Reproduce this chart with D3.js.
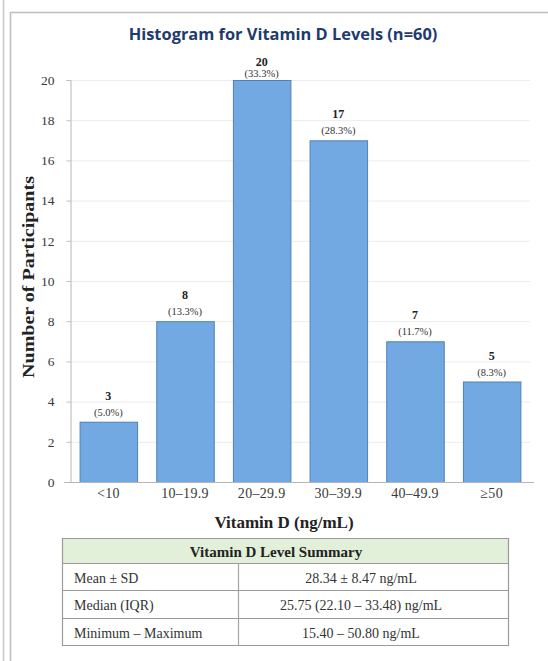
<!DOCTYPE html>
<html>
<head>
<meta charset="utf-8">
<script src="https://cdn.jsdelivr.net/npm/d3@7"></script>
<style>
  html, body { margin: 0; padding: 0; background: #fff; }
  svg { display: block; }
</style>
</head>
<body>
<svg id="chart" width="548" height="661"></svg>
<script>
// Vitamin D level bins and participant counts
const categories = ["<10", "10–19.9", "20–29.9", "30–39.9", "40–49.9", "≥50"];
const counts = [3, 8, 20, 17, 7, 5];
const pctLabels = ["(5.0%)", "(13.3%)", "(33.3%)", "(28.3%)", "(11.7%)", "(8.3%)"];
const yTicks = [0, 2, 4, 6, 8, 10, 12, 14, 16, 18, 20];

// Summary table rows
const summaryTitle = "Vitamin D Level Summary";
const summaryLabels = ["Mean ± SD", "Median (IQR)", "Minimum – Maximum"];
const summaryValues = ["28.34 ± 8.47 ng/mL", "25.75 (22.10 – 33.48) ng/mL", "15.40 – 50.80 ng/mL"];

const serif = "'Liberation Serif', 'Times New Roman', serif";
const svg = d3.select("#chart");

// page frame
svg.append("line").attr("x1", 3.5).attr("x2", 3.5).attr("y1", 0).attr("y2", 661)
  .attr("stroke", "#c8c8c8").attr("stroke-width", 1.5);
svg.append("path").attr("d", "M10.5,661 V12.5 H548")
  .attr("fill", "none").attr("stroke", "#bdbdbd").attr("stroke-width", 1.5);

const plot = { left: 70, right: 530, top: 80, bottom: 482 };

const x = d3.scaleBand().domain(categories)
  .range([plot.left, plot.right]).paddingInner(0.25).paddingOuter(0.125);
const y = d3.scaleLinear().domain([0, 20]).range([plot.bottom, plot.top]);

// title
svg.append("text")
  .attr("x", 283).attr("y", 40)
  .attr("text-anchor", "middle")
  .attr("font-family", "'Open Sans', 'Noto Sans', sans-serif")
  .attr("font-weight", "bold").attr("font-size", 16.4)
  .attr("fill", "#1f3a6e")
  .text("Histogram for Vitamin D Levels (n=60)");

// horizontal gridlines
svg.append("g").selectAll("line").data(yTicks.filter(d => d > 0)).join("line")
  .attr("x1", plot.left).attr("x2", plot.right)
  .attr("y1", d => y(d) + 0.5).attr("y2", d => y(d) + 0.5)
  .attr("stroke", "#ececec").attr("stroke-width", 1);

// y axis
const yAxis = svg.append("g")
  .attr("transform", `translate(${plot.left + 0.5},0)`)
  .call(d3.axisLeft(y).tickValues(yTicks).tickSize(4).tickPadding(12));
yAxis.attr("font-family", serif).attr("font-size", 13.5);
yAxis.select(".domain").attr("stroke", "#b5b5b5");
yAxis.selectAll(".tick line").attr("stroke", "#c0c0c0");
yAxis.selectAll(".tick text")
  .attr("font-family", serif).attr("font-size", 13.5)
  .attr("fill", "#3a3a3a");

// bars
svg.append("g").selectAll("rect").data(counts).join("rect")
  .attr("x", (d, i) => x(categories[i]) + 0.5)
  .attr("y", d => y(d) + 0.5)
  .attr("width", x.bandwidth())
  .attr("height", d => y(0) - y(d))
  .attr("fill", "#73a9e3")
  .attr("stroke", "#4f80b6").attr("stroke-width", 1);

// x axis
const xAxis = svg.append("g")
  .attr("transform", `translate(0,${plot.bottom + 0.5})`)
  .call(d3.axisBottom(x).tickSize(0).tickPadding(6).tickSizeOuter(0));
xAxis.attr("font-family", serif).attr("font-size", 14);
xAxis.select(".domain").attr("stroke", "#b5b5b5").attr("d", `M${plot.left - 6},0H${plot.right + 4}`);
xAxis.selectAll(".tick text")
  .attr("font-family", serif).attr("font-size", 14)
  .attr("letter-spacing", 0.3)
  .attr("fill", "#3a3a3a");

// value labels: count and share of participants
const maxCount = d3.max(counts);
const labels = svg.append("g").selectAll("g").data(counts).join("g")
  .attr("transform", (d, i) => `translate(${x(categories[i]) + x.bandwidth() / 2},${y(d)})`);
labels.append("text")
  .attr("y", d => d === maxCount ? -14.5 : -22).attr("text-anchor", "middle")
  .attr("font-family", serif).attr("font-weight", "bold").attr("font-size", 12)
  .attr("fill", "#222")
  .text(d => d);
labels.append("text")
  .attr("y", d => d === maxCount ? -3 : -6).attr("text-anchor", "middle")
  .attr("font-family", serif).attr("font-size", 10.5)
  .attr("fill", "#333")
  .text((d, i) => pctLabels[i]);

// axis titles
svg.append("text")
  .attr("x", 284).attr("y", 528).attr("text-anchor", "middle")
  .attr("font-family", serif).attr("font-weight", "bold").attr("font-size", 17)
  .attr("fill", "#222")
  .text("Vitamin D (ng/mL)");
svg.append("text")
  .attr("transform", "translate(34,277) rotate(-90) scale(1.25,1)")
  .attr("text-anchor", "middle")
  .attr("font-family", serif).attr("font-weight", "bold").attr("font-size", 16)
  .attr("fill", "#222")
  .text("Number of Participants");

// summary table
const tbl = { left: 62, right: 508, top: 538, header: 25, row: 27.3, divider: 238 };
const tg = svg.append("g");
tg.append("rect")
  .attr("x", tbl.left + 0.5).attr("y", tbl.top + 0.5)
  .attr("width", tbl.right - tbl.left).attr("height", tbl.header)
  .attr("fill", "#e2efd9");
tg.append("text")
  .attr("x", 276).attr("y", tbl.top + 19)
  .attr("text-anchor", "middle")
  .attr("font-family", serif).attr("font-weight", "bold").attr("font-size", 15)
  .attr("fill", "#222")
  .text(summaryTitle);

const rowY = i => tbl.top + tbl.header + i * tbl.row;
const rows = tg.selectAll("g.row").data(summaryLabels).join("g").attr("class", "row");
rows.append("text")
  .attr("x", tbl.left + 12).attr("y", (d, i) => rowY(i) + 20)
  .attr("font-family", serif).attr("font-size", 14).attr("fill", "#333")
  .text(d => d);
rows.append("text")
  .attr("x", 361).attr("y", (d, i) => rowY(i) + 20)
  .attr("text-anchor", "middle")
  .attr("font-family", serif).attr("font-size", 14).attr("fill", "#333")
  .text((d, i) => summaryValues[i]);

// table rules
const tableBottom = rowY(summaryLabels.length);
const hLines = [tbl.top].concat(d3.range(summaryLabels.length + 1).map(rowY));
tg.selectAll("line.h").data(hLines).join("line").attr("class", "h")
  .attr("x1", tbl.left).attr("x2", tbl.right + 1)
  .attr("y1", d => Math.round(d) + 0.5).attr("y2", d => Math.round(d) + 0.5)
  .attr("stroke", "#9a9a9a").attr("stroke-width", 1.2);
tg.selectAll("line.v").data([tbl.left, tbl.right]).join("line").attr("class", "v")
  .attr("x1", d => d + 0.5).attr("x2", d => d + 0.5)
  .attr("y1", tbl.top).attr("y2", tableBottom + 1)
  .attr("stroke", "#9a9a9a").attr("stroke-width", 1.2);
tg.append("line")
  .attr("x1", tbl.divider + 0.5).attr("x2", tbl.divider + 0.5)
  .attr("y1", rowY(0)).attr("y2", tableBottom)
  .attr("stroke", "#a5a5a5").attr("stroke-width", 1.2);
</script>
</body>
</html>
